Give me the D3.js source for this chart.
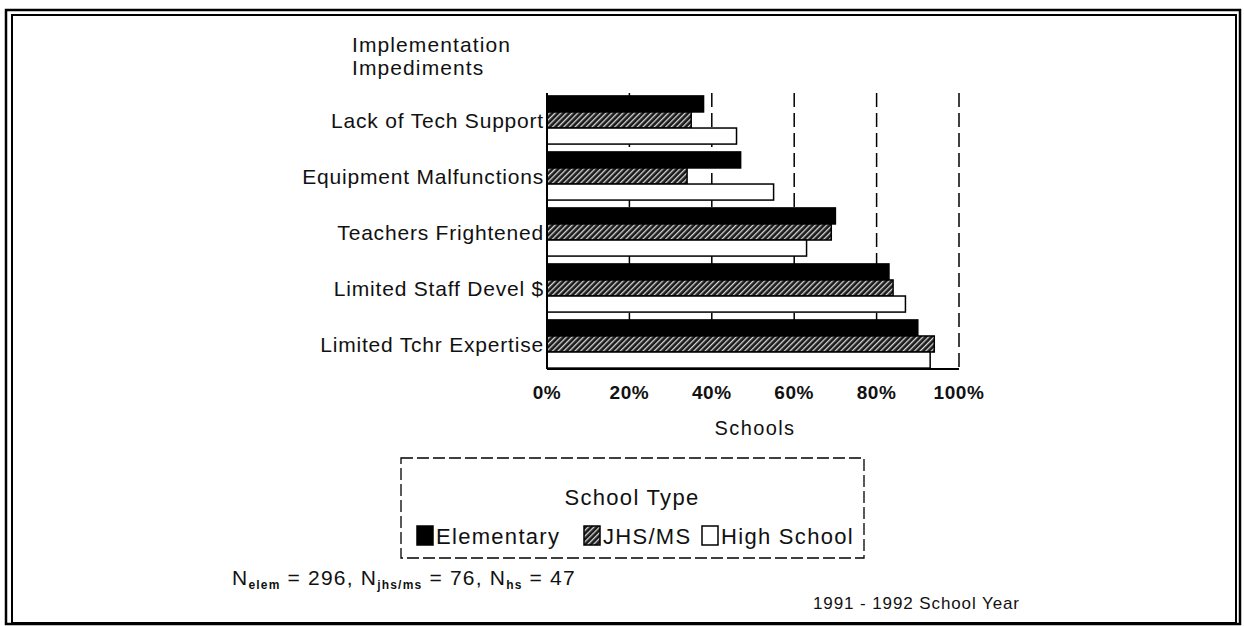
<!DOCTYPE html>
<html>
<head>
<meta charset="utf-8">
<script src="https://cdn.jsdelivr.net/npm/d3@7"></script>
<style>
  body { margin: 0; background: #fff; }
  svg text { font-family: "Liberation Sans", Arial, sans-serif; fill: #111; }
  .cat-label { font-size: 21px; letter-spacing: 0.8px; }
  .tick-label { font-size: 19px; font-weight: bold; letter-spacing: 0.6px; }
  .axis-title { font-size: 20px; letter-spacing: 1.4px; }
  .title { font-size: 21px; letter-spacing: 1.1px; }
  .legend-text { font-size: 22px; letter-spacing: 1.3px; }
  .note { font-size: 21px; letter-spacing: 1.2px; }
  .note-year { font-size: 17px; letter-spacing: 0.9px; }
</style>
</head>
<body>
<svg id="chart" width="1244" height="626"></svg>
<script>
const categories = ['Lack of Tech Support', 'Equipment Malfunctions', 'Teachers Frightened',
                    'Limited Staff Devel $', 'Limited Tchr Expertise'];
const seriesNames = ['Elementary', 'JHS/MS', 'High School'];
const elementary = [38, 47, 70, 83, 90];
const jhsMs = [35, 34, 69, 84, 94];
const highSchool = [46, 55, 63, 87, 93];
const xTicks = [0, 20, 40, 60, 80, 100];
const gridTicks = [20, 40, 60, 80, 100];

const seriesValues = [elementary, jhsMs, highSchool];
const fills = ['#000', 'url(#hatch)', '#fff'];

const svg = d3.select('#chart');

// hatch pattern for JHS/MS
const defs = svg.append('defs');
const pat = defs.append('pattern')
    .attr('id', 'hatch')
    .attr('patternUnits', 'userSpaceOnUse')
    .attr('width', 4)
    .attr('height', 4)
    .attr('patternTransform', 'rotate(45)');
pat.append('rect').attr('width', 4).attr('height', 4).attr('fill', '#1a1a1a');
pat.append('rect').attr('x', 0).attr('width', 1.3).attr('height', 4).attr('fill', '#d8d8d8');

// double frame
svg.append('rect').attr('x', 6).attr('y', 10).attr('width', 1234).attr('height', 614)
    .attr('fill', 'none').attr('stroke', '#000').attr('stroke-width', 2.5);
svg.append('rect').attr('x', 12).attr('y', 15).attr('width', 1224).attr('height', 608)
    .attr('fill', 'none').attr('stroke', '#000').attr('stroke-width', 2);

const x = d3.scaleLinear().domain([0, 100]).range([547, 959]);
const y = d3.scaleBand().domain(categories).range([92, 372])
    .paddingInner(0.14).paddingOuter(0.07);
const sub = d3.scaleBand().domain(d3.range(seriesNames.length))
    .range([0, y.bandwidth()]);

const plotTop = 93, plotBottom = 369;

// dashed gridlines
svg.append('g').selectAll('line')
  .data(gridTicks)
  .join('line')
    .attr('x1', d => x(d)).attr('x2', d => x(d))
    .attr('y1', plotTop).attr('y2', plotBottom)
    .attr('stroke', '#000').attr('stroke-width', 1.5)
    .attr('stroke-dasharray', '14,6');

// bars
const groups = svg.append('g').selectAll('g')
  .data(categories)
  .join('g')
    .attr('transform', d => 'translate(0,' + y(d) + ')');

groups.selectAll('rect')
  .data((d, i) => seriesValues.map((s, k) => ({ k: k, v: s[i] })))
  .join('rect')
    .attr('x', x(0))
    .attr('y', d => sub(d.k))
    .attr('width', d => x(d.v) - x(0))
    .attr('height', sub.bandwidth())
    .attr('fill', d => fills[d.k])
    .attr('stroke', '#000')
    .attr('stroke-width', 1.5);

// axes lines
svg.append('line').attr('x1', x(0)).attr('x2', x(0)).attr('y1', plotTop).attr('y2', plotBottom)
    .attr('stroke', '#000').attr('stroke-width', 2);
svg.append('line').attr('x1', x(0)).attr('x2', x(100)).attr('y1', plotBottom).attr('y2', plotBottom)
    .attr('stroke', '#000').attr('stroke-width', 2);

// category labels
svg.append('g').selectAll('text')
  .data(categories)
  .join('text')
    .attr('class', 'cat-label')
    .attr('x', x(0) - 3)
    .attr('y', d => y(d) + y.bandwidth() / 2)
    .attr('dy', '0.36em')
    .attr('text-anchor', 'end')
    .text(d => d);

// tick labels
svg.append('g').selectAll('text')
  .data(xTicks)
  .join('text')
    .attr('class', 'tick-label')
    .attr('x', d => x(d))
    .attr('y', 399)
    .attr('text-anchor', 'middle')
    .text(d => d + '%');

svg.append('text').attr('class', 'axis-title')
    .attr('x', 755).attr('y', 435).attr('text-anchor', 'middle').text('Schools');

// title
svg.append('text').attr('class', 'title').attr('x', 352).attr('y', 52).text('Implementation');
svg.append('text').attr('class', 'title').attr('x', 352).attr('y', 75).text('Impediments');

// legend
const lg = svg.append('g');
lg.append('rect').attr('x', 401).attr('y', 458).attr('width', 463).attr('height', 100)
    .attr('fill', 'none').attr('stroke', '#000').attr('stroke-width', 1.3)
    .attr('stroke-dasharray', '12,4');
lg.append('text').attr('class', 'legend-text').attr('x', 632).attr('y', 505)
    .attr('text-anchor', 'middle').text('School Type');
const legendX = [417, 584, 702];
seriesNames.forEach((name, k) => {
  lg.append('rect').attr('x', legendX[k]).attr('y', 526).attr('width', 16).attr('height', 19)
      .attr('fill', fills[k]).attr('stroke', '#000').attr('stroke-width', 1.5);
  lg.append('text').attr('class', 'legend-text').attr('x', legendX[k] + 19).attr('y', 544).text(name);
});

// footnote
const note = svg.append('text').attr('class', 'note').attr('x', 232).attr('y', 585);
const noteParts = [['N', 'elem', ' = 296, '], ['N', 'jhs/ms', ' = 76, '], ['N', 'hs', ' = 47']];
noteParts.forEach(p => {
  note.append('tspan').text(p[0]);
  note.append('tspan').attr('font-size', '12px').attr('font-weight', 'bold').attr('dy', 4).text(p[1]);
  note.append('tspan').attr('dy', -4).text(p[2]);
});

svg.append('text').attr('class', 'note-year').attr('x', 813).attr('y', 609).text('1991 - 1992 School Year');
</script>
</body>
</html>
